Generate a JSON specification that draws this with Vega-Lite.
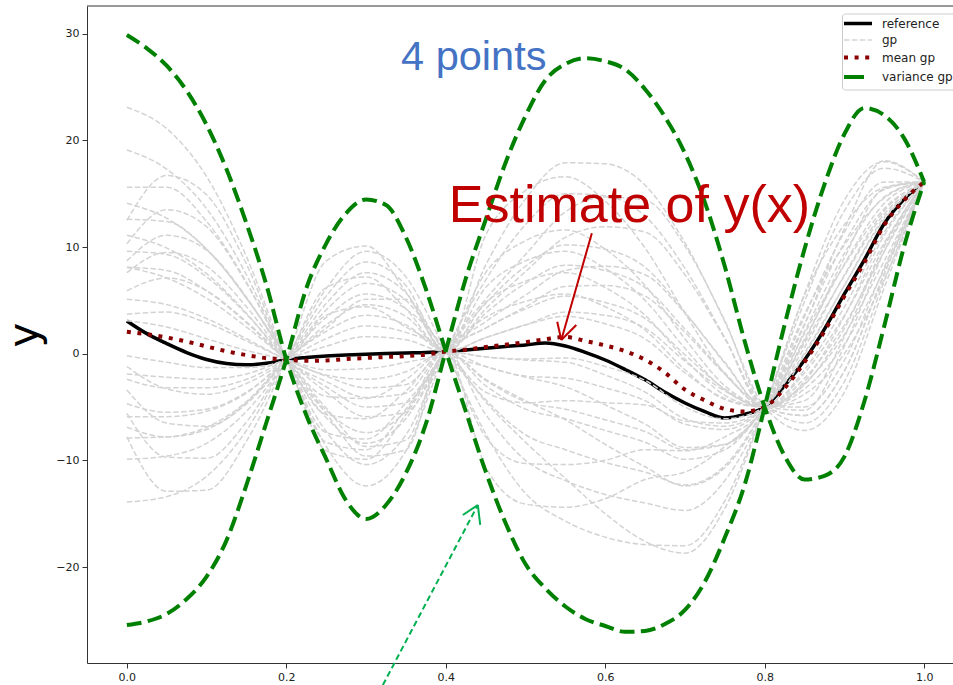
{
"$schema":"https://vega.github.io/schema/vega-lite/v6.json",
"width":866,"height":657,
"autosize":{"type":"none"},
"padding":{"left":87,"top":6,"right":0,"bottom":22},
"background":"white",
"config":{"view":{"stroke":null},"font":"DejaVu Sans",
 "axis":{"grid":false,"domainColor":"#333","tickColor":"#333","labelColor":"#222","labelFontSize":11,"labelFont":"DejaVu Sans","tickSize":5,"labelPadding":3,"domainWidth":1,"tickWidth":1},
 "legend":{"orient":"none","legendX":755,"legendY":7.5,"title":null,"fillColor":"white","strokeColor":"#cccccc","cornerRadius":3,"padding":4,"labelFontSize":12,"labelFont":"DejaVu Sans","labelColor":"#222","labelOffset":18,"symbolSize":256,"symbolOffset":6,"rowPadding":3.5,"symbolType":"stroke"}},
"datasets":{
"ref":[{"x":0,"y":3.07},{"x":0.025,"y":1.88},{"x":0.05,"y":0.95},{"x":0.075,"y":0.11},{"x":0.1,"y":-0.54},{"x":0.125,"y":-0.92},{"x":0.15,"y":-1.04},{"x":0.175,"y":-0.9},{"x":0.2,"y":-0.55},{"x":0.225,"y":-0.36},{"x":0.25,"y":-0.22},{"x":0.275,"y":-0.12},{"x":0.3,"y":-0.05},{"x":0.325,"y":0.02},{"x":0.35,"y":0.07},{"x":0.375,"y":0.11},{"x":0.4,"y":0.2},{"x":0.425,"y":0.35},{"x":0.45,"y":0.52},{"x":0.475,"y":0.68},{"x":0.5,"y":0.82},{"x":0.525,"y":1.0},{"x":0.55,"y":0.72},{"x":0.575,"y":0.13},{"x":0.6,"y":-0.59},{"x":0.625,"y":-1.48},{"x":0.65,"y":-2.45},{"x":0.675,"y":-3.62},{"x":0.7,"y":-4.62},{"x":0.725,"y":-5.43},{"x":0.75,"y":-6.03},{"x":0.775,"y":-5.69},{"x":0.8,"y":-5.0},{"x":0.825,"y":-3.0},{"x":0.85,"y":-0.6},{"x":0.875,"y":2.3},{"x":0.9,"y":5.6},{"x":0.925,"y":8.8},{"x":0.95,"y":12.2},{"x":0.975,"y":14.5},{"x":1,"y":16.1}],
"mean":[{"x":0,"y":2.06},{"x":0.025,"y":1.83},{"x":0.05,"y":1.52},{"x":0.075,"y":1.14},{"x":0.1,"y":0.68},{"x":0.125,"y":0.23},{"x":0.15,"y":-0.13},{"x":0.175,"y":-0.42},{"x":0.2,"y":-0.55},{"x":0.225,"y":-0.67},{"x":0.25,"y":-0.63},{"x":0.275,"y":-0.5},{"x":0.3,"y":-0.4},{"x":0.325,"y":-0.31},{"x":0.35,"y":-0.22},{"x":0.375,"y":-0.08},{"x":0.4,"y":0.2},{"x":0.425,"y":0.38},{"x":0.45,"y":0.63},{"x":0.475,"y":0.84},{"x":0.5,"y":1.08},{"x":0.525,"y":1.36},{"x":0.55,"y":1.57},{"x":0.575,"y":1.19},{"x":0.6,"y":0.77},{"x":0.625,"y":0.24},{"x":0.65,"y":-0.57},{"x":0.675,"y":-1.78},{"x":0.7,"y":-3.37},{"x":0.725,"y":-4.38},{"x":0.75,"y":-5.18},{"x":0.775,"y":-5.42},{"x":0.8,"y":-5.0},{"x":0.825,"y":-3.23},{"x":0.85,"y":-0.78},{"x":0.875,"y":2.11},{"x":0.9,"y":5.4},{"x":0.925,"y":8.55},{"x":0.95,"y":12.07},{"x":0.975,"y":14.4},{"x":1,"y":16.1}],
"var":[{"c":"A","x":0,"y":29.88},{"c":"A","x":0.025,"y":28.63},{"c":"A","x":0.05,"y":27.0},{"c":"A","x":0.075,"y":24.65},{"c":"A","x":0.1,"y":21.45},{"c":"A","x":0.125,"y":17.29},{"c":"A","x":0.15,"y":12.21},{"c":"A","x":0.175,"y":6.46},{"c":"A","x":0.2,"y":-0.55},{"c":"A","x":0.225,"y":-5.75},{"c":"A","x":0.25,"y":-9.87},{"c":"A","x":0.275,"y":-13.76},{"c":"A","x":0.3,"y":-15.5},{"c":"A","x":0.325,"y":-14.19},{"c":"A","x":0.35,"y":-11.19},{"c":"A","x":0.375,"y":-6.59},{"c":"A","x":0.4,"y":0.25},{"c":"A","x":0.425,"y":7.03},{"c":"A","x":0.45,"y":12.55},{"c":"A","x":0.475,"y":17.91},{"c":"A","x":0.5,"y":22.29},{"c":"A","x":0.525,"y":25.65},{"c":"A","x":0.55,"y":27.16},{"c":"A","x":0.575,"y":27.7},{"c":"A","x":0.6,"y":27.42},{"c":"A","x":0.625,"y":26.66},{"c":"A","x":0.65,"y":24.8},{"c":"A","x":0.675,"y":22.19},{"c":"A","x":0.7,"y":18.79},{"c":"A","x":0.725,"y":14.19},{"c":"A","x":0.75,"y":8.17},{"c":"A","x":0.775,"y":1.14},{"c":"A","x":0.8,"y":-5.0},{"c":"A","x":0.825,"y":-9.59},{"c":"A","x":0.85,"y":-11.8},{"c":"A","x":0.875,"y":-11.45},{"c":"A","x":0.9,"y":-9.65},{"c":"A","x":0.925,"y":-4.48},{"c":"A","x":0.95,"y":2.6},{"c":"A","x":0.975,"y":10.1},{"c":"A","x":1,"y":16.1},
{"c":"B","x":0,"y":-25.44},{"c":"B","x":0.025,"y":-25.1},{"c":"B","x":0.05,"y":-24.4},{"c":"B","x":0.075,"y":-23.0},{"c":"B","x":0.1,"y":-20.9},{"c":"B","x":0.125,"y":-17.5},{"c":"B","x":0.15,"y":-12.3},{"c":"B","x":0.175,"y":-6.45},{"c":"B","x":0.2,"y":-0.55},{"c":"B","x":0.225,"y":6.11},{"c":"B","x":0.25,"y":10.32},{"c":"B","x":0.275,"y":13.17},{"c":"B","x":0.3,"y":14.46},{"c":"B","x":0.325,"y":13.94},{"c":"B","x":0.35,"y":10.91},{"c":"B","x":0.375,"y":6.07},{"c":"B","x":0.4,"y":0.25},{"c":"B","x":0.425,"y":-5.39},{"c":"B","x":0.45,"y":-11.04},{"c":"B","x":0.475,"y":-15.87},{"c":"B","x":0.5,"y":-19.72},{"c":"B","x":0.525,"y":-22.01},{"c":"B","x":0.55,"y":-23.7},{"c":"B","x":0.575,"y":-24.87},{"c":"B","x":0.6,"y":-25.53},{"c":"B","x":0.625,"y":-26.08},{"c":"B","x":0.65,"y":-26.0},{"c":"B","x":0.675,"y":-25.34},{"c":"B","x":0.7,"y":-24.03},{"c":"B","x":0.725,"y":-21.38},{"c":"B","x":0.75,"y":-17.24},{"c":"B","x":0.775,"y":-12.26},{"c":"B","x":0.8,"y":-5.0},{"c":"B","x":0.825,"y":2.72},{"c":"B","x":0.85,"y":9.82},{"c":"B","x":0.875,"y":15.87},{"c":"B","x":0.9,"y":20.6},{"c":"B","x":0.925,"y":23.04},{"c":"B","x":0.95,"y":22.35},{"c":"B","x":0.975,"y":20.19},{"c":"B","x":1,"y":16.1}],
"gp":[
{"i":1,"x":0,"y":23.1},{"i":1,"x":0.05,"y":21.1},{"i":1,"x":0.1,"y":16.6},{"i":1,"x":0.15,"y":9.1},{"i":1,"x":0.2,"y":-0.55},{"i":1,"x":0.25,"y":-8.7},{"i":1,"x":0.3,"y":-12.4},{"i":1,"x":0.35,"y":-9.1},{"i":1,"x":0.4,"y":0.2},{"i":1,"x":0.45,"y":6.9},{"i":1,"x":0.5,"y":12.1},{"i":1,"x":0.55,"y":15.0},{"i":1,"x":0.6,"y":14.8},{"i":1,"x":0.65,"y":12.9},{"i":1,"x":0.7,"y":8.0},{"i":1,"x":0.75,"y":1.5},{"i":1,"x":0.8,"y":-5},{"i":1,"x":0.85,"y":-5.8},{"i":1,"x":0.9,"y":-1.6},{"i":1,"x":0.95,"y":7.5},{"i":1,"x":1,"y":16.1},
{"i":2,"x":0,"y":10.3},{"i":2,"x":0.05,"y":13.5},{"i":2,"x":0.1,"y":11.9},{"i":2,"x":0.15,"y":6.6},{"i":2,"x":0.2,"y":-0.55},{"i":2,"x":0.25,"y":-7.4},{"i":2,"x":0.3,"y":-8.0},{"i":2,"x":0.35,"y":-4.6},{"i":2,"x":0.4,"y":0.2},{"i":2,"x":0.45,"y":7.6},{"i":2,"x":0.5,"y":10.6},{"i":2,"x":0.55,"y":11.6},{"i":2,"x":0.6,"y":9.8},{"i":2,"x":0.65,"y":6.4},{"i":2,"x":0.7,"y":1.4},{"i":2,"x":0.75,"y":-3.0},{"i":2,"x":0.8,"y":-5},{"i":2,"x":0.85,"y":-5.3},{"i":2,"x":0.9,"y":0.7},{"i":2,"x":0.95,"y":9.6},{"i":2,"x":1,"y":16.1},
{"i":3,"x":0,"y":-13.9},{"i":3,"x":0.05,"y":-13.4},{"i":3,"x":0.1,"y":-11.5},{"i":3,"x":0.15,"y":-7.2},{"i":3,"x":0.2,"y":-0.55},{"i":3,"x":0.25,"y":6.1},{"i":3,"x":0.3,"y":9.6},{"i":3,"x":0.35,"y":7.2},{"i":3,"x":0.4,"y":0.2},{"i":3,"x":0.45,"y":-7.5},{"i":3,"x":0.5,"y":-13.1},{"i":3,"x":0.55,"y":-15.7},{"i":3,"x":0.6,"y":-17.2},{"i":3,"x":0.65,"y":-17.9},{"i":3,"x":0.7,"y":-18.0},{"i":3,"x":0.75,"y":-13.8},{"i":3,"x":0.8,"y":-5},{"i":3,"x":0.85,"y":4.9},{"i":3,"x":0.9,"y":13.4},{"i":3,"x":0.95,"y":17.4},{"i":3,"x":1,"y":16.1},
{"i":4,"x":0,"y":8.1},{"i":4,"x":0.05,"y":7.8},{"i":4,"x":0.1,"y":5.9},{"i":4,"x":0.15,"y":2.9},{"i":4,"x":0.2,"y":-0.55},{"i":4,"x":0.25,"y":-3.1},{"i":4,"x":0.3,"y":-5.0},{"i":4,"x":0.35,"y":-4.6},{"i":4,"x":0.4,"y":0.2},{"i":4,"x":0.45,"y":2.4},{"i":4,"x":0.5,"y":4.4},{"i":4,"x":0.55,"y":6.3},{"i":4,"x":0.6,"y":6.4},{"i":4,"x":0.65,"y":5.4},{"i":4,"x":0.7,"y":2.0},{"i":4,"x":0.75,"y":-1.9},{"i":4,"x":0.8,"y":-5},{"i":4,"x":0.85,"y":-2.3},{"i":4,"x":0.9,"y":2.7},{"i":4,"x":0.95,"y":9.6},{"i":4,"x":1,"y":16.1},
{"i":5,"x":0,"y":-3.4},{"i":5,"x":0.05,"y":-6.5},{"i":5,"x":0.1,"y":-6.8},{"i":5,"x":0.15,"y":-4.6},{"i":5,"x":0.2,"y":-0.55},{"i":5,"x":0.25,"y":3.4},{"i":5,"x":0.3,"y":5.6},{"i":5,"x":0.35,"y":4.2},{"i":5,"x":0.4,"y":0.2},{"i":5,"x":0.45,"y":-7.8},{"i":5,"x":0.5,"y":-10.3},{"i":5,"x":0.55,"y":-10.4},{"i":5,"x":0.6,"y":-10.0},{"i":5,"x":0.65,"y":-9.0},{"i":5,"x":0.7,"y":-9.1},{"i":5,"x":0.75,"y":-7.8},{"i":5,"x":0.8,"y":-5},{"i":5,"x":0.85,"y":3.5},{"i":5,"x":0.9,"y":11.4},{"i":5,"x":0.95,"y":16.1},{"i":5,"x":1,"y":16.1},
{"i":6,"x":0,"y":14.1},{"i":6,"x":0.05,"y":12.7},{"i":6,"x":0.1,"y":9.8},{"i":6,"x":0.15,"y":5.2},{"i":6,"x":0.2,"y":-0.55},{"i":6,"x":0.25,"y":-8.3},{"i":6,"x":0.3,"y":-9.0},{"i":6,"x":0.35,"y":-5.2},{"i":6,"x":0.4,"y":0.2},{"i":6,"x":0.45,"y":2.4},{"i":6,"x":0.5,"y":4.2},{"i":6,"x":0.55,"y":5.4},{"i":6,"x":0.6,"y":4.8},{"i":6,"x":0.65,"y":3.3},{"i":6,"x":0.7,"y":-0.1},{"i":6,"x":0.75,"y":-3.3},{"i":6,"x":0.8,"y":-5},{"i":6,"x":0.85,"y":-2.6},{"i":6,"x":0.9,"y":3.5},{"i":6,"x":0.95,"y":11.1},{"i":6,"x":1,"y":16.1},
{"i":7,"x":0,"y":-2.4},{"i":7,"x":0.05,"y":-3.2},{"i":7,"x":0.1,"y":-3.2},{"i":7,"x":0.15,"y":-2.4},{"i":7,"x":0.2,"y":-0.55},{"i":7,"x":0.25,"y":1.4},{"i":7,"x":0.3,"y":2.6},{"i":7,"x":0.35,"y":2.0},{"i":7,"x":0.4,"y":0.2},{"i":7,"x":0.45,"y":-4.5},{"i":7,"x":0.5,"y":-8.3},{"i":7,"x":0.55,"y":-11.7},{"i":7,"x":0.6,"y":-15.0},{"i":7,"x":0.65,"y":-17.6},{"i":7,"x":0.7,"y":-18.7},{"i":7,"x":0.75,"y":-14.5},{"i":7,"x":0.8,"y":-5},{"i":7,"x":0.85,"y":5.6},{"i":7,"x":0.9,"y":14.4},{"i":7,"x":0.95,"y":18.0},{"i":7,"x":1,"y":16.1},
{"i":8,"x":0,"y":12.5},{"i":8,"x":0.05,"y":16.7},{"i":8,"x":0.1,"y":14.9},{"i":8,"x":0.15,"y":8.4},{"i":8,"x":0.2,"y":-0.55},{"i":8,"x":0.25,"y":-5.6},{"i":8,"x":0.3,"y":-9.6},{"i":8,"x":0.35,"y":-9.0},{"i":8,"x":0.4,"y":0.2},{"i":8,"x":0.45,"y":-3.0},{"i":8,"x":0.5,"y":-5.2},{"i":8,"x":0.55,"y":-6.1},{"i":8,"x":0.6,"y":-7.2},{"i":8,"x":0.65,"y":-8.3},{"i":8,"x":0.7,"y":-9.9},{"i":8,"x":0.75,"y":-9.0},{"i":8,"x":0.8,"y":-5},{"i":8,"x":0.85,"y":1.2},{"i":8,"x":0.9,"y":9.0},{"i":8,"x":0.95,"y":15.5},{"i":8,"x":1,"y":16.1},
{"i":9,"x":0,"y":-9.9},{"i":9,"x":0.05,"y":-9.6},{"i":9,"x":0.1,"y":-8.4},{"i":9,"x":0.15,"y":-5.4},{"i":9,"x":0.2,"y":-0.55},{"i":9,"x":0.25,"y":6.2},{"i":9,"x":0.3,"y":7.2},{"i":9,"x":0.35,"y":4.2},{"i":9,"x":0.4,"y":0.2},{"i":9,"x":0.45,"y":11.1},{"i":9,"x":0.5,"y":15.3},{"i":9,"x":0.55,"y":16.6},{"i":9,"x":0.6,"y":14.3},{"i":9,"x":0.65,"y":9.9},{"i":9,"x":0.7,"y":3.8},{"i":9,"x":0.75,"y":-1.9},{"i":9,"x":0.8,"y":-5},{"i":9,"x":0.85,"y":-6.5},{"i":9,"x":0.9,"y":-2.6},{"i":9,"x":0.95,"y":6.8},{"i":9,"x":1,"y":16.1},
{"i":10,"x":0,"y":5.1},{"i":10,"x":0.05,"y":4.6},{"i":10,"x":0.1,"y":3.3},{"i":10,"x":0.15,"y":1.4},{"i":10,"x":0.2,"y":-0.55},{"i":10,"x":0.25,"y":-2.0},{"i":10,"x":0.3,"y":-2.4},{"i":10,"x":0.35,"y":-1.7},{"i":10,"x":0.4,"y":0.2},{"i":10,"x":0.45,"y":-5.7},{"i":10,"x":0.5,"y":-10.0},{"i":10,"x":0.55,"y":-11.9},{"i":10,"x":0.6,"y":-13.2},{"i":10,"x":0.65,"y":-14.0},{"i":10,"x":0.7,"y":-14.7},{"i":10,"x":0.75,"y":-11.9},{"i":10,"x":0.8,"y":-5},{"i":10,"x":0.85,"y":5.5},{"i":10,"x":0.9,"y":12.1},{"i":10,"x":0.95,"y":15.6},{"i":10,"x":1,"y":16.1},
{"i":11,"x":0,"y":-5.6},{"i":11,"x":0.05,"y":-9.7},{"i":11,"x":0.1,"y":-9.8},{"i":11,"x":0.15,"y":-6.4},{"i":11,"x":0.2,"y":-0.55},{"i":11,"x":0.25,"y":5.4},{"i":11,"x":0.3,"y":8.6},{"i":11,"x":0.35,"y":6.4},{"i":11,"x":0.4,"y":0.2},{"i":11,"x":0.45,"y":4.2},{"i":11,"x":0.5,"y":7.7},{"i":11,"x":0.55,"y":10.9},{"i":11,"x":0.6,"y":11.9},{"i":11,"x":0.65,"y":11.4},{"i":11,"x":0.7,"y":7.4},{"i":11,"x":0.75,"y":1.4},{"i":11,"x":0.8,"y":-5},{"i":11,"x":0.85,"y":-5.0},{"i":11,"x":0.9,"y":-0.6},{"i":11,"x":0.95,"y":8.1},{"i":11,"x":1,"y":16.1},
{"i":12,"x":0,"y":8.1},{"i":12,"x":0.05,"y":7.1},{"i":12,"x":0.1,"y":5.2},{"i":12,"x":0.15,"y":2.5},{"i":12,"x":0.2,"y":-0.55},{"i":12,"x":0.25,"y":-3.6},{"i":12,"x":0.3,"y":-5.9},{"i":12,"x":0.35,"y":-5.5},{"i":12,"x":0.4,"y":0.2},{"i":12,"x":0.45,"y":4.7},{"i":12,"x":0.5,"y":8.2},{"i":12,"x":0.55,"y":10.2},{"i":12,"x":0.6,"y":9.8},{"i":12,"x":0.65,"y":8.1},{"i":12,"x":0.7,"y":3.9},{"i":12,"x":0.75,"y":-0.9},{"i":12,"x":0.8,"y":-5},{"i":12,"x":0.85,"y":-2.8},{"i":12,"x":0.9,"y":1.8},{"i":12,"x":0.95,"y":8.7},{"i":12,"x":1,"y":16.1},
{"i":13,"x":0,"y":-0.2},{"i":13,"x":0.05,"y":-0.8},{"i":13,"x":0.1,"y":-1.3},{"i":13,"x":0.15,"y":-1.3},{"i":13,"x":0.2,"y":-0.55},{"i":13,"x":0.25,"y":3.6},{"i":13,"x":0.3,"y":4.4},{"i":13,"x":0.35,"y":2.5},{"i":13,"x":0.4,"y":0.2},{"i":13,"x":0.45,"y":-3.6},{"i":13,"x":0.5,"y":-4.6},{"i":13,"x":0.55,"y":-4.4},{"i":13,"x":0.6,"y":-4.6},{"i":13,"x":0.65,"y":-4.8},{"i":13,"x":0.7,"y":-6.3},{"i":13,"x":0.75,"y":-6.5},{"i":13,"x":0.8,"y":-5},{"i":13,"x":0.85,"y":1.4},{"i":13,"x":0.9,"y":8.4},{"i":13,"x":0.95,"y":14.1},{"i":13,"x":1,"y":16.1},
{"i":14,"x":0,"y":7.6},{"i":14,"x":0.05,"y":9.5},{"i":14,"x":0.1,"y":8.2},{"i":14,"x":0.15,"y":4.4},{"i":14,"x":0.2,"y":-0.55},{"i":14,"x":0.25,"y":-5.3},{"i":14,"x":0.3,"y":-7.4},{"i":14,"x":0.35,"y":-5.4},{"i":14,"x":0.4,"y":0.2},{"i":14,"x":0.45,"y":-2.4},{"i":14,"x":0.5,"y":-4.4},{"i":14,"x":0.55,"y":-6.2},{"i":14,"x":0.6,"y":-8.5},{"i":14,"x":0.65,"y":-10.6},{"i":14,"x":0.7,"y":-12.4},{"i":14,"x":0.75,"y":-10.7},{"i":14,"x":0.8,"y":-5},{"i":14,"x":0.85,"y":3.7},{"i":14,"x":0.9,"y":10.2},{"i":14,"x":0.95,"y":14.6},{"i":14,"x":1,"y":16.1},
{"i":15,"x":0,"y":-5.9},{"i":15,"x":0.05,"y":-5.9},{"i":15,"x":0.1,"y":-5.4},{"i":15,"x":0.15,"y":-3.7},{"i":15,"x":0.2,"y":-0.55},{"i":15,"x":0.25,"y":2.1},{"i":15,"x":0.3,"y":3.6},{"i":15,"x":0.35,"y":2.7},{"i":15,"x":0.4,"y":0.2},{"i":15,"x":0.45,"y":8.3},{"i":15,"x":0.5,"y":14.5},{"i":15,"x":0.55,"y":17.9},{"i":15,"x":0.6,"y":17.8},{"i":15,"x":0.65,"y":15.8},{"i":15,"x":0.7,"y":10.4},{"i":15,"x":0.75,"y":3.0},{"i":15,"x":0.8,"y":-5},{"i":15,"x":0.85,"y":-7.2},{"i":15,"x":0.9,"y":-3.6},{"i":15,"x":0.95,"y":6.2},{"i":15,"x":1,"y":16.1},
{"i":16,"x":0,"y":12.6},{"i":16,"x":0.05,"y":12.4},{"i":16,"x":0.1,"y":9.8},{"i":16,"x":0.15,"y":5.2},{"i":16,"x":0.2,"y":-0.55},{"i":16,"x":0.25,"y":-9.1},{"i":16,"x":0.3,"y":-9.9},{"i":16,"x":0.35,"y":-5.7},{"i":16,"x":0.4,"y":0.2},{"i":16,"x":0.45,"y":3.4},{"i":16,"x":0.5,"y":4.9},{"i":16,"x":0.55,"y":5.6},{"i":16,"x":0.6,"y":4.4},{"i":16,"x":0.65,"y":2.2},{"i":16,"x":0.7,"y":-1.5},{"i":16,"x":0.75,"y":-4.3},{"i":16,"x":0.8,"y":-5},{"i":16,"x":0.85,"y":-1.8},{"i":16,"x":0.9,"y":3.6},{"i":16,"x":0.95,"y":10.4},{"i":16,"x":1,"y":16.1},
{"i":17,"x":0,"y":3.7},{"i":17,"x":0.05,"y":3.9},{"i":17,"x":0.1,"y":2.9},{"i":17,"x":0.15,"y":1.2},{"i":17,"x":0.2,"y":-0.55},{"i":17,"x":0.25,"y":-2.1},{"i":17,"x":0.3,"y":-3.2},{"i":17,"x":0.35,"y":-2.9},{"i":17,"x":0.4,"y":0.2},{"i":17,"x":0.45,"y":-1.2},{"i":17,"x":0.5,"y":-2.1},{"i":17,"x":0.55,"y":-2.3},{"i":17,"x":0.6,"y":-3.2},{"i":17,"x":0.65,"y":-4.4},{"i":17,"x":0.7,"y":-6.6},{"i":17,"x":0.75,"y":-7.1},{"i":17,"x":0.8,"y":-5},{"i":17,"x":0.85,"y":0.6},{"i":17,"x":0.9,"y":7.4},{"i":17,"x":0.95,"y":13.4},{"i":17,"x":1,"y":16.1},
{"i":18,"x":0,"y":19.1},{"i":18,"x":0.05,"y":17.3},{"i":18,"x":0.1,"y":13.6},{"i":18,"x":0.15,"y":7.4},{"i":18,"x":0.2,"y":-0.55},{"i":18,"x":0.25,"y":-6.0},{"i":18,"x":0.3,"y":-8.4},{"i":18,"x":0.35,"y":-6.1},{"i":18,"x":0.4,"y":0.2},{"i":18,"x":0.45,"y":3.0},{"i":18,"x":0.5,"y":5.5},{"i":18,"x":0.55,"y":7.8},{"i":18,"x":0.6,"y":8.2},{"i":18,"x":0.65,"y":7.4},{"i":18,"x":0.7,"y":3.8},{"i":18,"x":0.75,"y":-0.8},{"i":18,"x":0.8,"y":-5},{"i":18,"x":0.85,"y":-4.4},{"i":18,"x":0.9,"y":1.6},{"i":18,"x":0.95,"y":10.1},{"i":18,"x":1,"y":16.1},
{"i":19,"x":0,"y":-4.7},{"i":19,"x":0.05,"y":-5.5},{"i":19,"x":0.1,"y":-5.2},{"i":19,"x":0.15,"y":-3.6},{"i":19,"x":0.2,"y":-0.55},{"i":19,"x":0.25,"y":4.1},{"i":19,"x":0.3,"y":6.6},{"i":19,"x":0.35,"y":5.0},{"i":19,"x":0.4,"y":0.2},{"i":19,"x":0.45,"y":-4.3},{"i":19,"x":0.5,"y":-7.6},{"i":19,"x":0.55,"y":-9.0},{"i":19,"x":0.6,"y":-10.2},{"i":19,"x":0.65,"y":-11.1},{"i":19,"x":0.7,"y":-12.3},{"i":19,"x":0.75,"y":-10.5},{"i":19,"x":0.8,"y":-5},{"i":19,"x":0.85,"y":2.8},{"i":19,"x":0.9,"y":10.4},{"i":19,"x":0.95,"y":15.4},{"i":19,"x":1,"y":16.1},
{"i":20,"x":0,"y":5.9},{"i":20,"x":0.05,"y":7.1},{"i":20,"x":0.1,"y":5.9},{"i":20,"x":0.15,"y":3.0},{"i":20,"x":0.2,"y":-0.55},{"i":20,"x":0.25,"y":-4.0},{"i":20,"x":0.3,"y":-4.2},{"i":20,"x":0.35,"y":-2.4},{"i":20,"x":0.4,"y":0.2},{"i":20,"x":0.45,"y":-10.6},{"i":20,"x":0.5,"y":-14.1},{"i":20,"x":0.55,"y":-14.4},{"i":20,"x":0.6,"y":-13.6},{"i":20,"x":0.65,"y":-11.8},{"i":20,"x":0.7,"y":-11.1},{"i":20,"x":0.75,"y":-8.7},{"i":20,"x":0.8,"y":-5},{"i":20,"x":0.85,"y":2.7},{"i":20,"x":0.9,"y":11.7},{"i":20,"x":0.95,"y":18.1},{"i":20,"x":1,"y":16.1},
{"i":21,"x":0,"y":-1.9},{"i":21,"x":0.05,"y":-2.2},{"i":21,"x":0.1,"y":-2.4},{"i":21,"x":0.15,"y":-1.9},{"i":21,"x":0.2,"y":-0.55},{"i":21,"x":0.25,"y":0.7},{"i":21,"x":0.3,"y":1.6},{"i":21,"x":0.35,"y":1.3},{"i":21,"x":0.4,"y":0.2},{"i":21,"x":0.45,"y":1.5},{"i":21,"x":0.5,"y":2.7},{"i":21,"x":0.55,"y":3.5},{"i":21,"x":0.6,"y":2.8},{"i":21,"x":0.65,"y":1.4},{"i":21,"x":0.7,"y":-1.8},{"i":21,"x":0.75,"y":-4.2},{"i":21,"x":0.8,"y":-5},{"i":21,"x":0.85,"y":-1.5},{"i":21,"x":0.9,"y":4.4},{"i":21,"x":0.95,"y":11.4},{"i":21,"x":1,"y":16.1},
{"i":22,"x":0,"y":9.6},{"i":22,"x":0.05,"y":9.3},{"i":22,"x":0.1,"y":7.2},{"i":22,"x":0.15,"y":3.7},{"i":22,"x":0.2,"y":-0.55},{"i":22,"x":0.25,"y":-5.1},{"i":22,"x":0.3,"y":-8.7},{"i":22,"x":0.35,"y":-8.1},{"i":22,"x":0.4,"y":0.2},{"i":22,"x":0.45,"y":-0.3},{"i":22,"x":0.5,"y":-0.6},{"i":22,"x":0.55,"y":-0.8},{"i":22,"x":0.6,"y":-2.0},{"i":22,"x":0.65,"y":-3.6},{"i":22,"x":0.7,"y":-6.1},{"i":22,"x":0.75,"y":-6.8},{"i":22,"x":0.8,"y":-5},{"i":22,"x":0.85,"y":0.1},{"i":22,"x":0.9,"y":6.4},{"i":22,"x":0.95,"y":12.6},{"i":22,"x":1,"y":16.1},
{"i":23,"x":0,"y":-1.2},{"i":23,"x":0.05,"y":-3.3},{"i":23,"x":0.1,"y":-3.8},{"i":23,"x":0.15,"y":-2.8},{"i":23,"x":0.2,"y":-0.55},{"i":23,"x":0.25,"y":2.7},{"i":23,"x":0.3,"y":4.6},{"i":23,"x":0.35,"y":3.5},{"i":23,"x":0.4,"y":0.2},{"i":23,"x":0.45,"y":3.8},{"i":23,"x":0.5,"y":6.6},{"i":23,"x":0.55,"y":8.3},{"i":23,"x":0.6,"y":7.8},{"i":23,"x":0.65,"y":6.2},{"i":23,"x":0.7,"y":2.3},{"i":23,"x":0.75,"y":-1.8},{"i":23,"x":0.8,"y":-5},{"i":23,"x":0.85,"y":-2.9},{"i":23,"x":0.9,"y":2.4},{"i":23,"x":0.95,"y":10.1},{"i":23,"x":1,"y":16.1},
{"i":24,"x":0,"y":3.1},{"i":24,"x":0.05,"y":2.5},{"i":24,"x":0.1,"y":1.4},{"i":24,"x":0.15,"y":0.3},{"i":24,"x":0.2,"y":-0.55},{"i":24,"x":0.25,"y":-1.5},{"i":24,"x":0.3,"y":-1.4},{"i":24,"x":0.35,"y":-0.8},{"i":24,"x":0.4,"y":0.2},{"i":24,"x":0.45,"y":6.2},{"i":24,"x":0.5,"y":8.7},{"i":24,"x":0.55,"y":9.6},{"i":24,"x":0.6,"y":8.0},{"i":24,"x":0.65,"y":5.0},{"i":24,"x":0.7,"y":0.5},{"i":24,"x":0.75,"y":-3.4},{"i":24,"x":0.8,"y":-5},{"i":24,"x":0.85,"y":-3.3},{"i":24,"x":0.9,"y":0.9},{"i":24,"x":0.95,"y":7.9},{"i":24,"x":1,"y":16.1},
{"i":25,"x":0,"y":15.6},{"i":25,"x":0.05,"y":15.6},{"i":25,"x":0.1,"y":12.4},{"i":25,"x":0.15,"y":6.7},{"i":25,"x":0.2,"y":-0.55},{"i":25,"x":0.25,"y":-7.3},{"i":25,"x":0.3,"y":-10.4},{"i":25,"x":0.35,"y":-7.6},{"i":25,"x":0.4,"y":0.2},{"i":25,"x":0.45,"y":5.1},{"i":25,"x":0.5,"y":9.3},{"i":25,"x":0.55,"y":13.3},{"i":25,"x":0.6,"y":14.7},{"i":25,"x":0.65,"y":14.4},{"i":25,"x":0.7,"y":10.1},{"i":25,"x":0.75,"y":3.1},{"i":25,"x":0.8,"y":-5},{"i":25,"x":0.85,"y":-5.8},{"i":25,"x":0.9,"y":-1.6},{"i":25,"x":0.95,"y":7.5},{"i":25,"x":1,"y":16.1},
{"i":26,"x":0,"y":-7.9},{"i":26,"x":0.05,"y":-7.8},{"i":26,"x":0.1,"y":-6.9},{"i":26,"x":0.15,"y":-4.5},{"i":26,"x":0.2,"y":-0.55},{"i":26,"x":0.25,"y":2.4},{"i":26,"x":0.3,"y":5.1},{"i":26,"x":0.35,"y":5.1},{"i":26,"x":0.4,"y":0.2},{"i":26,"x":0.45,"y":-1.2},{"i":26,"x":0.5,"y":-2.2},{"i":26,"x":0.55,"y":-3.1},{"i":26,"x":0.6,"y":-4.8},{"i":26,"x":0.65,"y":-6.6},{"i":26,"x":0.7,"y":-8.8},{"i":26,"x":0.75,"y":-8.5},{"i":26,"x":0.8,"y":-5},{"i":26,"x":0.85,"y":1.9},{"i":26,"x":0.9,"y":8.3},{"i":26,"x":0.95,"y":13.6},{"i":26,"x":1,"y":16.1},
{"i":27,"x":0,"y":8.7},{"i":27,"x":0.05,"y":11.1},{"i":27,"x":0.1,"y":9.7},{"i":27,"x":0.15,"y":5.3},{"i":27,"x":0.2,"y":-0.55},{"i":27,"x":0.25,"y":-5.7},{"i":27,"x":0.3,"y":-6.1},{"i":27,"x":0.35,"y":-3.5},{"i":27,"x":0.4,"y":0.2},{"i":27,"x":0.45,"y":-0.3},{"i":27,"x":0.5,"y":-0.5},{"i":27,"x":0.55,"y":-0.4},{"i":27,"x":0.6,"y":-1.2},{"i":27,"x":0.65,"y":-2.5},{"i":27,"x":0.7,"y":-5.0},{"i":27,"x":0.75,"y":-6.1},{"i":27,"x":0.8,"y":-5},{"i":27,"x":0.85,"y":2.1},{"i":27,"x":0.9,"y":9.4},{"i":27,"x":0.95,"y":14.7},{"i":27,"x":1,"y":16.1},
{"i":28,"x":0,"y":-6.9},{"i":28,"x":0.05,"y":-7.8},{"i":28,"x":0.1,"y":-7.1},{"i":28,"x":0.15,"y":-4.7},{"i":28,"x":0.2,"y":-0.55},{"i":28,"x":0.25,"y":4.7},{"i":28,"x":0.3,"y":7.6},{"i":28,"x":0.35,"y":5.7},{"i":28,"x":0.4,"y":0.2},{"i":28,"x":0.45,"y":4.8},{"i":28,"x":0.5,"y":6.8},{"i":28,"x":0.55,"y":7.6},{"i":28,"x":0.6,"y":6.2},{"i":28,"x":0.65,"y":3.6},{"i":28,"x":0.7,"y":-0.5},{"i":28,"x":0.75,"y":-3.9},{"i":28,"x":0.8,"y":-5},{"i":28,"x":0.85,"y":-3.8},{"i":28,"x":0.9,"y":0.0},{"i":28,"x":0.95,"y":7.0},{"i":28,"x":1,"y":16.1},
{"i":29,"x":0,"y":11.1},{"i":29,"x":0.05,"y":9.9},{"i":29,"x":0.1,"y":7.5},{"i":29,"x":0.15,"y":3.8},{"i":29,"x":0.2,"y":-0.55},{"i":29,"x":0.25,"y":-2.6},{"i":29,"x":0.3,"y":-4.1},{"i":29,"x":0.35,"y":-3.7},{"i":29,"x":0.4,"y":0.2},{"i":29,"x":0.45,"y":-2.5},{"i":29,"x":0.5,"y":-4.5},{"i":29,"x":0.55,"y":-5.2},{"i":29,"x":0.6,"y":-6.2},{"i":29,"x":0.65,"y":-7.3},{"i":29,"x":0.7,"y":-9.0},{"i":29,"x":0.75,"y":-8.5},{"i":29,"x":0.8,"y":-5},{"i":29,"x":0.85,"y":1.0},{"i":29,"x":0.9,"y":7.3},{"i":29,"x":0.95,"y":13.1},{"i":29,"x":1,"y":16.1},
{"i":30,"x":0,"y":-7.8},{"i":30,"x":0.05,"y":-12.9},{"i":30,"x":0.1,"y":-12.8},{"i":30,"x":0.15,"y":-8.2},{"i":30,"x":0.2,"y":-0.55},{"i":30,"x":0.25,"y":8.7},{"i":30,"x":0.3,"y":10.1},{"i":30,"x":0.35,"y":5.8},{"i":30,"x":0.4,"y":0.2},{"i":30,"x":0.45,"y":1.5},{"i":30,"x":0.5,"y":2.7},{"i":30,"x":0.55,"y":3.9},{"i":30,"x":0.6,"y":3.6},{"i":30,"x":0.65,"y":2.4},{"i":30,"x":0.7,"y":-0.7},{"i":30,"x":0.75,"y":-3.5},{"i":30,"x":0.8,"y":-5},{"i":30,"x":0.85,"y":-0.1},{"i":30,"x":0.9,"y":6.4},{"i":30,"x":0.95,"y":12.8},{"i":30,"x":1,"y":16.1}]
},
"encoding":{
 "x":{"field":"x","type":"quantitative","scale":{"domain":[-0.05,1.0362],"nice":false,"zero":false},"axis":{"title":null,"values":[0,0.2,0.4,0.6,0.8,1.0],"format":".1f"}},
 "y":{"field":"y","type":"quantitative","scale":{"domain":[-29.0,32.6],"nice":false,"zero":false},"axis":{"title":"y","values":[-20,-10,0,10,20,30],"labelExpr":"replace(datum.label,'-','\u2212')","titleFontSize":42,"titleFont":"DejaVu Sans","titleFontWeight":"normal","titleColor":"black","titlePadding":9}}
},
"layer":[
 {"data":{"values":[{"x":-0.05,"x2":1.0362,"y":32.6}]},"mark":{"type":"rule","color":"#333","strokeWidth":1},"encoding":{"x2":{"field":"x2"}}},
 {"data":{"name":"ref"},"mark":{"type":"line","interpolate":"monotone","strokeWidth":3.5},
  "encoding":{
   "color":{"datum":"reference","type":"nominal","scale":{"domain":["reference","gp","mean gp","variance gp"],"range":["#000000","#d3d3d3","#8b0000","#008000"]},
    "legend":{"title":null,"symbolType":"stroke","encode":{"symbols":{"update":{
      "size":{"value":784},
      "strokeDash":{"signal":"datum.value==='gp'?[5.5,2.4]:datum.value==='mean gp'?[4,6.6]:datum.value==='variance gp'?[20,8]:[1,0]"},
      "strokeWidth":{"signal":"datum.value==='gp'?1.5:datum.value==='reference'?3.5:4"}}}}}}}},
 {"data":{"name":"gp"},"mark":{"type":"line","interpolate":"monotone","strokeWidth":1.5,"strokeDash":[5.5,2.4]},
  "encoding":{"detail":{"field":"i","type":"nominal"},"color":{"datum":"gp","type":"nominal"}}},
 {"data":{"name":"mean"},"mark":{"type":"line","interpolate":"monotone","strokeWidth":4,"strokeDash":[4,6.6]},
  "encoding":{"color":{"datum":"mean gp","type":"nominal"}}},
 {"data":{"name":"var"},"mark":{"type":"line","interpolate":"monotone","strokeWidth":4,"strokeDash":[14.8,6.4]},
  "encoding":{"detail":{"field":"c","type":"nominal"},"color":{"datum":"variance gp","type":"nominal"}}},
 {"data":{"values":[{"t":"4 points","x":0.4351,"y":26.6}]},"mark":{"type":"text","font":"Liberation Sans","fontSize":41.5,"color":"#4472C4","align":"center","baseline":"alphabetic"},"encoding":{"text":{"field":"t"}}},
 {"data":{"values":[{"t":"Estimate of y(x)","x":0.6304,"y":12.38}]},"mark":{"type":"text","font":"Liberation Sans","fontSize":52,"color":"#C00000","align":"center","baseline":"alphabetic"},"encoding":{"text":{"field":"t"}}},
 {"data":{"values":[{"x":0.5832,"y":11.29,"x2":0.5449,"y2":1.28},{"x":0.5398,"y":3.0,"x2":0.5449,"y2":1.28},{"x":0.5637,"y":2.69,"x2":0.5449,"y2":1.28}]},"mark":{"type":"rule","color":"#C00000","strokeWidth":2},"encoding":{"x2":{"field":"x2"},"y2":{"field":"y2"}}},
 {"data":{"values":[{"x":0.3211,"y":-31.06,"x2":0.4402,"y2":-14.19}]},"mark":{"type":"rule","color":"#00B050","strokeWidth":2,"strokeDash":[6,3.5],"clip":false},"encoding":{"x2":{"field":"x2"},"y2":{"field":"y2"}}},
 {"data":{"values":[{"x":0.4214,"y":-15.12,"x2":0.4402,"y2":-14.19},{"x":0.4432,"y":-16.06,"x2":0.4402,"y2":-14.19}]},"mark":{"type":"rule","color":"#00B050","strokeWidth":2},"encoding":{"x2":{"field":"x2"},"y2":{"field":"y2"}}}
]
}
